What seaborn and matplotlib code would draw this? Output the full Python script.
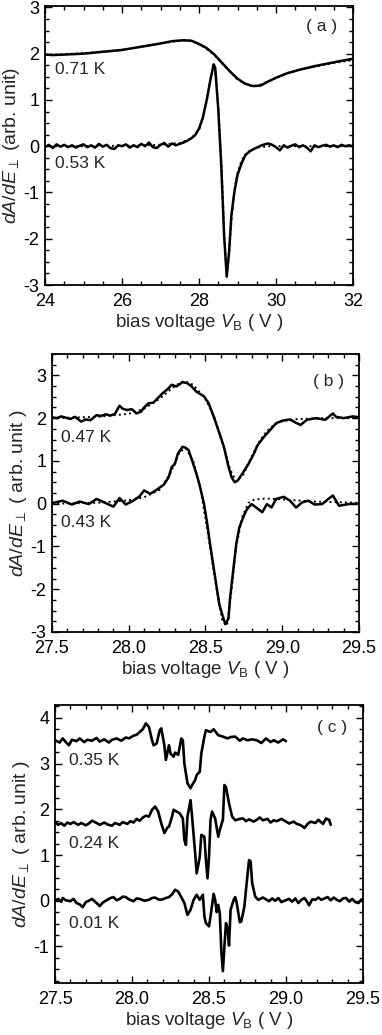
import seaborn as sns
import matplotlib.pyplot as plt
from matplotlib.ticker import MultipleLocator, FormatStrFormatter

# ---- panel (a) : (V_B, dA/dE) ----
a_071 = [(24.0, 1.98), (24.2, 1.97), (24.5, 1.98), (25.0, 2.00), (25.5, 2.04), (26.0, 2.08),
         (26.5, 2.15), (27.0, 2.22), (27.3, 2.27), (27.6, 2.29), (27.8, 2.28), (28.0, 2.21),
         (28.2, 2.12), (28.4, 1.98), (28.6, 1.80), (28.8, 1.62), (29.0, 1.46), (29.2, 1.35),
         (29.4, 1.30), (29.6, 1.31), (29.8, 1.40), (30.0, 1.48), (30.3, 1.58), (30.6, 1.65),
         (31.0, 1.73), (31.3, 1.78), (31.6, 1.83), (32.0, 1.89)]
a_071_fit = [(24.0, 1.97), (25.0, 2.01), (26.0, 2.08), (27.0, 2.22), (27.5, 2.28), (27.8, 2.28),
             (28.1, 2.16), (28.4, 1.97), (28.7, 1.70), (29.0, 1.44), (29.3, 1.31), (29.5, 1.30),
             (29.8, 1.40), (30.2, 1.55), (30.6, 1.65), (31.0, 1.72), (31.5, 1.80), (32.0, 1.86)]
a_053 = [(24.0, -0.02), (24.1, 0.03), (24.2, -0.04), (24.3, 0.04), (24.4, -0.01), (24.5, 0.03),
         (24.6, -0.02), (24.7, 0.02), (24.8, -0.03), (24.9, 0.01), (25.0, 0.04), (25.1, -0.02),
         (25.2, 0.02), (25.3, -0.03), (25.4, 0.05), (25.5, -0.01), (25.6, 0.03), (25.7, -0.04),
         (25.8, -0.06), (25.9, 0.02), (26.0, 0.00), (26.1, 0.04), (26.2, -0.03), (26.3, 0.02),
         (26.4, -0.02), (26.5, 0.05), (26.6, 0.00), (26.7, 0.08), (26.8, -0.02), (26.9, -0.04),
         (27.0, 0.03), (27.1, 0.07), (27.2, -0.01), (27.3, 0.06), (27.4, 0.02), (27.5, 0.05),
         (27.6, 0.08), (27.7, 0.12), (27.8, 0.17), (27.9, 0.24), (28.0, 0.38), (28.1, 0.62),
         (28.2, 1.00), (28.3, 1.45), (28.38, 1.77), (28.42, 1.70), (28.5, 0.80), (28.58, -0.45),
         (28.65, -1.90), (28.72, -2.82), (28.78, -2.30), (28.84, -1.50), (28.92, -0.98),
         (29.0, -0.62), (29.1, -0.38), (29.2, -0.20), (29.3, -0.12), (29.4, -0.07), (29.5, -0.03),
         (29.6, 0.01), (29.7, 0.04), (29.8, 0.06), (29.9, 0.03), (30.0, -0.02), (30.1, -0.09),
         (30.2, 0.02), (30.3, -0.03), (30.4, 0.01), (30.5, 0.04), (30.6, -0.02), (30.7, 0.02),
         (30.8, -0.03), (30.9, -0.11), (31.0, 0.02), (31.1, -0.02), (31.2, 0.01), (31.3, 0.03),
         (31.4, -0.01), (31.5, 0.02), (31.6, -0.02), (31.7, 0.03), (31.8, 0.00), (31.9, 0.02),
         (32.0, 0.00)]
a_053_fit = [(24.0, 0.0), (25.0, 0.0), (26.0, 0.01), (27.0, 0.03), (27.5, 0.07), (27.8, 0.17),
             (28.0, 0.35), (28.1, 0.60), (28.2, 0.98), (28.3, 1.45), (28.38, 1.74), (28.45, 1.45),
             (28.52, 0.60), (28.6, -0.70), (28.66, -2.00), (28.72, -2.78), (28.78, -2.35),
             (28.85, -1.52), (28.92, -0.95), (29.0, -0.58), (29.1, -0.32), (29.2, -0.18),
             (29.35, -0.08), (29.5, -0.03), (29.8, 0.0), (30.5, 0.0), (32.0, 0.0)]

# ---- panel (b) ----
b_047 = [(27.50, 2.02), (27.53, 2.00), (27.56, 2.04), (27.59, 2.01), (27.62, 1.98), (27.65, 2.03),
         (27.69, 1.92), (27.72, 1.97), (27.75, 1.95), (27.79, 2.07), (27.82, 2.05), (27.85, 2.09),
         (27.88, 2.06), (27.91, 2.10), (27.94, 2.29), (27.96, 2.22), (27.99, 2.19), (28.02, 2.21),
         (28.05, 2.11), (28.08, 2.15), (28.10, 2.25), (28.13, 2.35), (28.16, 2.36), (28.19, 2.47),
         (28.22, 2.58), (28.26, 2.70), (28.28, 2.78), (28.31, 2.74), (28.35, 2.84), (28.38, 2.82),
         (28.41, 2.74), (28.44, 2.62), (28.49, 2.51), (28.52, 2.35), (28.55, 2.07), (28.58, 1.76),
         (28.62, 1.33), (28.65, 0.86), (28.67, 0.62), (28.69, 0.50), (28.71, 0.54), (28.74, 0.70),
         (28.78, 0.93), (28.81, 1.13), (28.84, 1.37), (28.88, 1.56), (28.92, 1.72), (28.96, 1.88),
         (29.00, 1.94), (29.05, 1.97), (29.09, 1.89), (29.12, 1.84), (29.16, 1.96), (29.22, 2.00),
         (29.28, 1.96), (29.31, 2.05), (29.33, 2.11), (29.35, 2.03), (29.40, 2.00), (29.46, 2.04),
         (29.50, 2.02)]
b_047_fit = [(27.5, 2.0), (27.8, 2.03), (28.0, 2.10), (28.1, 2.22), (28.2, 2.45), (28.3, 2.75),
             (28.36, 2.87), (28.42, 2.78), (28.5, 2.45), (28.56, 2.0), (28.62, 1.30), (28.66, 0.80),
             (28.70, 0.52), (28.75, 0.70), (28.8, 1.10), (28.85, 1.45), (28.9, 1.70), (28.95, 1.85),
             (29.0, 1.93), (29.1, 1.98), (29.3, 2.0), (29.5, 2.0)]
b_043 = [(27.51, 0.02), (27.57, 0.07), (27.63, -0.02), (27.68, 0.05), (27.74, -0.01), (27.79, 0.11),
         (27.84, 0.03), (27.90, -0.07), (27.94, 0.13), (27.98, -0.02), (28.03, 0.07), (28.07, 0.17),
         (28.10, 0.31), (28.14, 0.23), (28.18, 0.32), (28.23, 0.45), (28.26, 0.62), (28.28, 0.86),
         (28.30, 0.92), (28.32, 1.17), (28.35, 1.33), (28.37, 1.31), (28.39, 1.25), (28.42, 0.93),
         (28.44, 0.71), (28.46, 0.46), (28.49, 0.00), (28.51, -0.44), (28.53, -0.95), (28.55, -1.42),
         (28.57, -1.89), (28.59, -2.36), (28.62, -2.72), (28.63, -2.82), (28.65, -2.68),
         (28.66, -2.21), (28.68, -1.58), (28.70, -0.95), (28.72, -0.56), (28.75, -0.28),
         (28.77, -0.13), (28.80, -0.01), (28.83, -0.09), (28.87, -0.20), (28.90, -0.01),
         (28.93, -0.09), (28.96, 0.11), (29.01, 0.16), (29.05, 0.07), (29.09, -0.09), (29.13, 0.03),
         (29.17, 0.07), (29.21, -0.02), (29.26, -0.01), (29.30, 0.11), (29.33, 0.19), (29.37, -0.05),
         (29.43, -0.01), (29.50, 0.00)]
b_043_fit = [(27.5, 0.0), (27.8, 0.02), (28.0, 0.08), (28.1, 0.15), (28.2, 0.32), (28.27, 0.70),
             (28.33, 1.20), (28.37, 1.30), (28.42, 1.00), (28.47, 0.30), (28.52, -0.80),
             (28.57, -1.95), (28.61, -2.75), (28.64, -2.85), (28.67, -2.00), (28.70, -1.00),
             (28.74, -0.30), (28.78, 0.02), (28.82, 0.10), (28.9, 0.12), (29.0, 0.10), (29.2, 0.05),
             (29.5, 0.02)]

# ---- panel (c) ----
c_035 = [(27.50, 3.51), (27.53, 3.46), (27.55, 3.55), (27.57, 3.47), (27.59, 3.40), (27.61, 3.52),
         (27.64, 3.49), (27.66, 3.55), (27.69, 3.47), (27.71, 3.52), (27.74, 3.50), (27.77, 3.56),
         (27.79, 3.48), (27.82, 3.53), (27.85, 3.46), (27.87, 3.52), (27.90, 3.55), (27.93, 3.50),
         (27.96, 3.57), (27.98, 3.55), (28.01, 3.61), (28.03, 3.63), (28.05, 3.69), (28.07, 3.75),
         (28.09, 3.88), (28.10, 3.84), (28.11, 3.80), (28.13, 3.51), (28.14, 3.40), (28.16, 3.44),
         (28.18, 3.73), (28.19, 3.77), (28.21, 3.40), (28.22, 3.08), (28.24, 3.40), (28.25, 3.22),
         (28.27, 3.15), (28.28, 3.24), (28.30, 3.19), (28.32, 3.55), (28.33, 3.51), (28.34, 3.00),
         (28.36, 2.57), (28.38, 2.46), (28.39, 2.53), (28.41, 2.64), (28.42, 2.75), (28.44, 2.82),
         (28.45, 3.22), (28.47, 3.59), (28.48, 3.73), (28.51, 3.69), (28.53, 3.75), (28.56, 3.62),
         (28.59, 3.59), (28.62, 3.55), (28.64, 3.58), (28.67, 3.59), (28.70, 3.50), (28.72, 3.55),
         (28.75, 3.51), (28.78, 3.53), (28.81, 3.51), (28.84, 3.45), (28.87, 3.55), (28.90, 3.47),
         (28.92, 3.51), (28.95, 3.46), (28.98, 3.53), (29.00, 3.49)]
c_024 = [(27.50, 1.73), (27.52, 1.66), (27.54, 1.70), (27.56, 1.64), (27.58, 1.71), (27.60, 1.68),
         (27.62, 1.72), (27.65, 1.66), (27.67, 1.70), (27.70, 1.65), (27.72, 1.69), (27.74, 1.75),
         (27.77, 1.70), (27.79, 1.66), (27.82, 1.71), (27.84, 1.67), (27.87, 1.64), (27.89, 1.70),
         (27.92, 1.66), (27.94, 1.72), (27.97, 1.68), (27.99, 1.74), (28.01, 1.71), (28.03, 1.79),
         (28.05, 1.75), (28.07, 1.82), (28.09, 1.86), (28.11, 1.84), (28.13, 1.99), (28.15, 2.06),
         (28.17, 1.95), (28.19, 1.69), (28.21, 1.48), (28.23, 1.60), (28.24, 1.62), (28.26, 1.84),
         (28.27, 1.99), (28.29, 1.95), (28.31, 1.91), (28.33, 1.80), (28.34, 1.33), (28.35, 1.22),
         (28.36, 1.84), (28.38, 2.20), (28.39, 1.84), (28.41, 1.04), (28.42, 0.60), (28.44, 0.96),
         (28.45, 1.44), (28.47, 1.40), (28.48, 0.89), (28.49, 0.49), (28.50, 0.96), (28.51, 1.77),
         (28.52, 1.95), (28.54, 1.80), (28.55, 1.59), (28.56, 1.40), (28.57, 1.55), (28.59, 1.77),
         (28.60, 2.53), (28.61, 2.49), (28.63, 2.13), (28.65, 1.84), (28.67, 1.76), (28.70, 1.79),
         (28.72, 1.80), (28.74, 1.74), (28.76, 1.78), (28.79, 1.73), (28.81, 1.77), (28.83, 1.82),
         (28.85, 1.76), (28.88, 1.79), (28.90, 1.71), (28.92, 1.76), (28.94, 1.74), (28.97, 1.79),
         (28.99, 1.75), (29.02, 1.69), (29.05, 1.73), (29.07, 1.68), (29.09, 1.66), (29.11, 1.62),
         (29.12, 1.59), (29.14, 1.68), (29.16, 1.73), (29.19, 1.70), (29.21, 1.77), (29.23, 1.71),
         (29.24, 1.68), (29.26, 1.80), (29.27, 1.78), (29.28, 1.77), (29.29, 1.66)]
c_001 = [(27.50, 0.00), (27.52, 0.04), (27.54, -0.02), (27.55, 0.06), (27.57, 0.01), (27.60, -0.01),
         (27.62, 0.04), (27.64, -0.05), (27.66, -0.08), (27.68, -0.14), (27.70, -0.03), (27.72, 0.00),
         (27.74, 0.04), (27.76, -0.02), (27.78, -0.08), (27.79, -0.12), (27.81, -0.04), (27.84, 0.02),
         (27.86, 0.06), (27.88, 0.08), (27.90, 0.01), (27.92, 0.04), (27.94, 0.09), (27.96, 0.08),
         (27.98, 0.03), (28.01, -0.01), (28.03, 0.05), (28.05, 0.04), (28.08, 0.00), (28.11, 0.02),
         (28.13, 0.06), (28.15, 0.07), (28.17, 0.03), (28.19, 0.02), (28.22, 0.06), (28.24, 0.08),
         (28.26, 0.14), (28.28, 0.24), (28.30, 0.20), (28.32, 0.08), (28.34, -0.05), (28.36, -0.31),
         (28.38, -0.20), (28.40, 0.02), (28.42, 0.13), (28.44, 0.02), (28.46, 0.13), (28.47, -0.34),
         (28.48, -0.49), (28.50, -0.56), (28.51, -0.34), (28.53, 0.15), (28.54, 0.02), (28.55, -0.25),
         (28.56, -0.09), (28.57, -0.27), (28.58, -1.10), (28.59, -1.54), (28.60, -1.00),
         (28.61, -0.49), (28.62, -0.60), (28.63, -0.98), (28.64, -0.20), (28.66, 0.02), (28.67, 0.08),
         (28.68, -0.05), (28.70, -0.47), (28.71, -0.45), (28.73, -0.12), (28.74, 0.24), (28.76, 0.89),
         (28.77, 0.86), (28.78, 0.39), (28.80, 0.09), (28.82, 0.02), (28.85, 0.07), (28.87, 0.03),
         (28.89, -0.01), (28.91, 0.05), (28.93, 0.00), (28.95, 0.06), (28.97, -0.03), (28.99, 0.00),
         (29.02, 0.04), (29.04, -0.02), (29.06, 0.05), (29.08, -0.05), (29.10, 0.02), (29.12, 0.06),
         (29.14, -0.04), (29.15, -0.10), (29.17, 0.03), (29.19, 0.02), (29.21, 0.07), (29.23, 0.02),
         (29.25, 0.05), (29.27, 0.08), (29.29, 0.01), (29.31, 0.07), (29.33, 0.02), (29.35, -0.01),
         (29.37, 0.05), (29.39, 0.06), (29.41, -0.02), (29.43, 0.04), (29.45, -0.03), (29.47, -0.05),
         (29.49, 0.03), (29.50, 0.00)]

sns.set_theme(style="ticks")
plt.rcParams['font.family'] = ['Liberation Sans', 'DejaVu Sans']
plt.rcParams['mathtext.fontset'] = 'custom'
plt.rcParams['mathtext.rm'] = 'Liberation Sans'
plt.rcParams['mathtext.it'] = 'Liberation Sans:italic'
plt.rcParams['axes.unicode_minus'] = False

YLAB_A = r'$dA/dE_{\perp}$ (arb. unit)'
YLAB_BC = r'$dA/dE_{\perp}$ ( arb. unit )'
XLAB = r'bias voltage $V_{\mathrm{B}}$ ( V )'
TXT = 12.5


def draw(ax, pts, dotted=False, lw=1.8):
    xs = [p[0] for p in pts]
    ys = [p[1] for p in pts]
    sns.lineplot(x=xs, y=ys, ax=ax, color='black', sort=False, estimator=None,
                 linewidth=1.4 if dotted else lw, linestyle=':' if dotted else '-')


def style(ax, xlim, ylim, xmaj, xmin, ymin, xfmt, ylab):
    ax.set_xlim(*xlim)
    ax.set_ylim(*ylim)
    ax.xaxis.set_major_locator(MultipleLocator(xmaj))
    ax.xaxis.set_minor_locator(MultipleLocator(xmin))
    ax.yaxis.set_major_locator(MultipleLocator(1))
    ax.yaxis.set_minor_locator(MultipleLocator(ymin))
    ax.xaxis.set_major_formatter(FormatStrFormatter(xfmt))
    ax.yaxis.set_major_formatter(FormatStrFormatter('%d'))
    ax.tick_params(which='both', direction='in', top=True, right=True, width=1.0,
                   labelsize=13, colors='black')
    ax.tick_params(axis='x', pad=6)
    ax.tick_params(axis='y', pad=4)
    ax.tick_params(which='major', length=5)
    ax.tick_params(which='minor', length=3)
    for s in ax.spines.values():
        s.set_linewidth(1.3)
        s.set_color('black')
    ax.set_xlabel(XLAB, fontsize=13.5, labelpad=1)
    ax.set_ylabel(ylab, fontsize=14, labelpad=1)


fig = plt.figure(figsize=(3.82, 10.35), dpi=100)
ax_a = fig.add_axes([0.1178, 0.7246, 0.8063, 0.2696])
ax_b = fig.add_axes([0.1361, 0.3894, 0.8037, 0.2686])
ax_c = fig.add_axes([0.1440, 0.0502, 0.8063, 0.2686])

# (a)
draw(ax_a, a_071_fit, dotted=True)
draw(ax_a, a_053_fit, dotted=True)
draw(ax_a, a_071)
draw(ax_a, a_053)
style(ax_a, (24, 32), (-3, 3.03), 2, 0.5, 0.25, '%d', YLAB_A)
ax_a.text(24.25, 1.55, '0.71 K', fontsize=TXT, ha='left', va='baseline')
ax_a.text(24.25, -0.48, '0.53 K', fontsize=TXT, ha='left', va='baseline')
ax_a.text(31.6, 2.48, '( a )', fontsize=TXT, ha='right', va='baseline')

# (b)
draw(ax_b, b_047_fit, dotted=True)
draw(ax_b, b_043_fit, dotted=True)
draw(ax_b, b_047)
draw(ax_b, b_043)
style(ax_b, (27.5, 29.5), (-3, 3.5), 0.5, 0.1, 0.25, '%.1f', YLAB_BC)
ax_b.text(27.56, 1.45, '0.47 K', fontsize=TXT, ha='left', va='baseline')
ax_b.text(27.56, -0.54, '0.43 K', fontsize=TXT, ha='left', va='baseline')
ax_b.text(29.4, 2.76, '( b )', fontsize=TXT, ha='right', va='baseline')

# (c)
draw(ax_c, c_035, lw=1.9)
draw(ax_c, c_024, lw=1.9)
draw(ax_c, c_001, lw=1.9)
style(ax_c, (27.5, 29.5), (-1.8, 4.28), 0.5, 0.1, 0.25, '%.1f', YLAB_BC)
ax_c.text(27.59, 2.97, '0.35 K', fontsize=TXT, ha='left', va='baseline')
ax_c.text(27.59, 1.15, '0.24 K', fontsize=TXT, ha='left', va='baseline')
ax_c.text(27.59, -0.60, '0.01 K', fontsize=TXT, ha='left', va='baseline')
ax_c.text(29.4, 3.70, '( c )', fontsize=TXT, ha='right', va='baseline')

fig.savefig('out.png', dpi=100)
